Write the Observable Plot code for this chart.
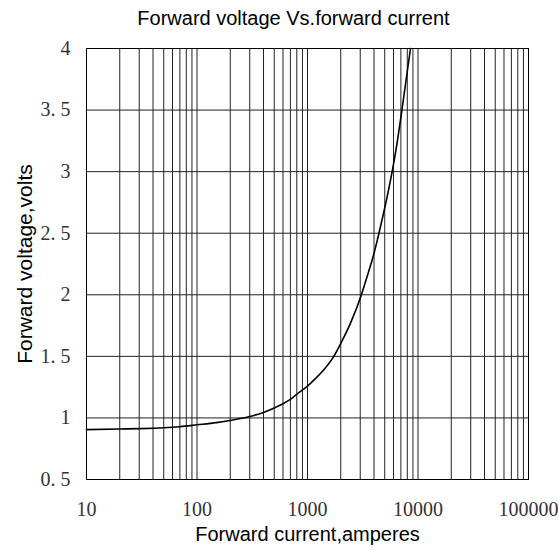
<!DOCTYPE html>
<html>
<head>
<meta charset="utf-8">
<script src="https://cdn.jsdelivr.net/npm/d3@7"></script>
<script src="https://cdn.jsdelivr.net/npm/@observablehq/plot@0.6"></script>
<style>
  html, body { margin: 0; padding: 0; background: #fff; }
</style>
</head>
<body>
<div id="chart"></div>
<script>
// Curve data
const current = [10, 20, 30, 50, 70, 100, 150, 200, 300, 400, 570, 700, 834, 1000, 1180, 1400, 1730, 2000, 2450, 3060, 3470, 3980, 4420, 4900, 5440, 5920, 6460, 7050, 8550];
const voltage = [0.905, 0.91, 0.913, 0.92, 0.929, 0.944, 0.962, 0.979, 1.011, 1.045, 1.105, 1.15, 1.205, 1.258, 1.32, 1.39, 1.5, 1.605, 1.77, 1.995, 2.15, 2.33, 2.495, 2.67, 2.86, 3.03, 3.23, 3.46, 4.0];

// Axis ticks and labels
const xTicks = [10, 100, 1000, 10000, 100000];
const xTickLabels = ["10", "100", "1000", "10000", "100000"];
const yTicks = [0.5, 1, 1.5, 2, 2.5, 3, 3.5, 4];
const yTickLabels = ["0. 5", "1", "1. 5", "2", "2. 5", "3", "3. 5", "4"];

// Grid lines (log grid: 1..9 per decade)
const xGrid = [10,20,30,40,50,60,70,80,90,100,200,300,400,500,600,700,800,900,1000,2000,3000,4000,5000,6000,7000,8000,9000,10000,20000,30000,40000,50000,60000,70000,80000,90000,100000];
const yGrid = yTicks;

const title = "Forward voltage Vs.forward current";
const xLabel = "Forward current,amperes";
const yLabel = "Forward voltage,volts";

const data = current.map((c, i) => ({current: c, voltage: voltage[i]}));

const sans = "'Liberation Sans', Arial, sans-serif";
const serif = "'Liberation Serif', 'Times New Roman', serif";

const chart = Plot.plot({
  width: 559,
  height: 552,
  marginLeft: 86,
  marginRight: 31,
  marginTop: 48,
  marginBottom: 73,
  style: {background: "#fff", color: "#000"},
  x: {type: "log", domain: [10, 100000], axis: null},
  y: {domain: [0.5, 4], axis: null},
  marks: [
    Plot.ruleX(xGrid, {x: d => d, stroke: "#222", strokeWidth: 1}),
    Plot.ruleY(yGrid, {y: d => d, stroke: "#222", strokeWidth: 1}),
    Plot.frame({stroke: "#000", strokeWidth: 1}),
    Plot.line(data, {x: "current", y: "voltage", stroke: "#000", strokeWidth: 1.6, curve: "monotone-x"}),
    Plot.text(xTicks, {
      x: d => d, frameAnchor: "bottom", dy: 30, lineAnchor: "middle", textAnchor: "middle",
      text: (d, i) => xTickLabels[i], fontSize: 20, fontFamily: serif, fill: "#333"
    }),
    Plot.text(yTicks, {
      y: d => d, frameAnchor: "left", dx: -16, lineAnchor: "middle", textAnchor: "end",
      text: (d, i) => yTickLabels[i], fontSize: 20, fontFamily: serif, fill: "#333"
    }),
    Plot.text([title], {frameAnchor: "top", dx: -14, dy: -24, lineAnchor: "bottom", textAnchor: "middle", fontSize: 20, fontFamily: sans, fill: "#000"}),
    Plot.text([xLabel], {frameAnchor: "bottom", dy: 61, lineAnchor: "bottom", textAnchor: "middle", fontSize: 20, fontFamily: sans, fill: "#000"}),
    Plot.text([yLabel], {frameAnchor: "left", dx: -55, rotate: -90, lineAnchor: "bottom", textAnchor: "middle", fontSize: 21, fontFamily: sans, fill: "#000"})
  ]
});
document.getElementById("chart").appendChild(chart);
</script>
</body>
</html>
